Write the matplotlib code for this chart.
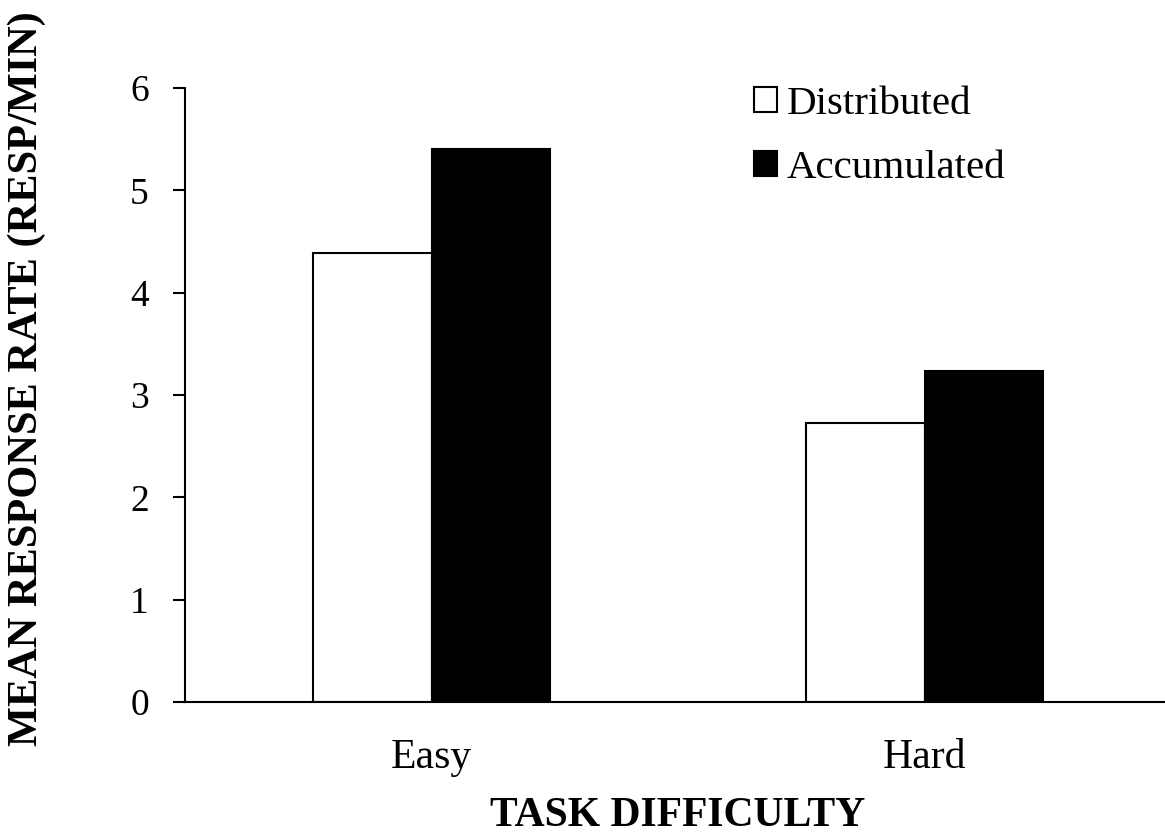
import numpy as np
import matplotlib
matplotlib.use("Agg")
from matplotlib import pyplot as plt

plt.rcParams["font.family"] = ["Liberation Serif", "DejaVu Serif"]

# DATA ##########################################
categories = ["Easy", "Hard"]
distributed = [4.39, 2.73]
accumulated = [5.40, 3.23]
series_names = ["Distributed", "Accumulated"]

# PLOT ##########################################
fig = plt.figure(figsize=(11.65, 8.36), dpi=100)
ax = fig.add_axes([185 / 1165, 1 - 702 / 836, 986 / 1165, 614 / 836])

x = np.arange(len(categories))
w = 0.24
ax.bar(x - w / 2, distributed, w, color="white", edgecolor="black", linewidth=1.5, label=series_names[0])
ax.bar(x + w / 2, accumulated, w, color="black", edgecolor="black", linewidth=1.5, label=series_names[1])

ax.set_xlim(-0.5, 1.5)
ax.set_ylim(0, 6)
ax.set_yticks(range(0, 7))
ax.set_xticks(x)
ax.set_xticklabels(categories)
ax.tick_params(axis="y", length=9, width=1.5, labelsize=27, pad=17)
ax.tick_params(axis="x", length=0, labelsize=30, pad=26)

for s in ["top", "right"]:
    ax.spines[s].set_visible(False)
for s in ["left", "bottom"]:
    ax.spines[s].set_linewidth(1.5)

ax.set_xlabel("TASK DIFFICULTY", fontsize=30, fontweight="bold", labelpad=15)
fig.text(27 / 1165, 1 - 379 / 836, "MEAN RESPONSE RATE (RESP/MIN)", rotation=90, fontsize=30.5,
         fontweight="bold", ha="center", va="center")

ax.legend(loc="upper left", bbox_to_anchor=(754 / 1165, 1 - 86 / 836), bbox_transform=fig.transFigure,
          frameon=False, fontsize=29.5, handlelength=0.55, handleheight=0.55, handletextpad=0.25,
          labelspacing=0.66, borderpad=0, borderaxespad=0)

plt.savefig("out.png", dpi=100)
